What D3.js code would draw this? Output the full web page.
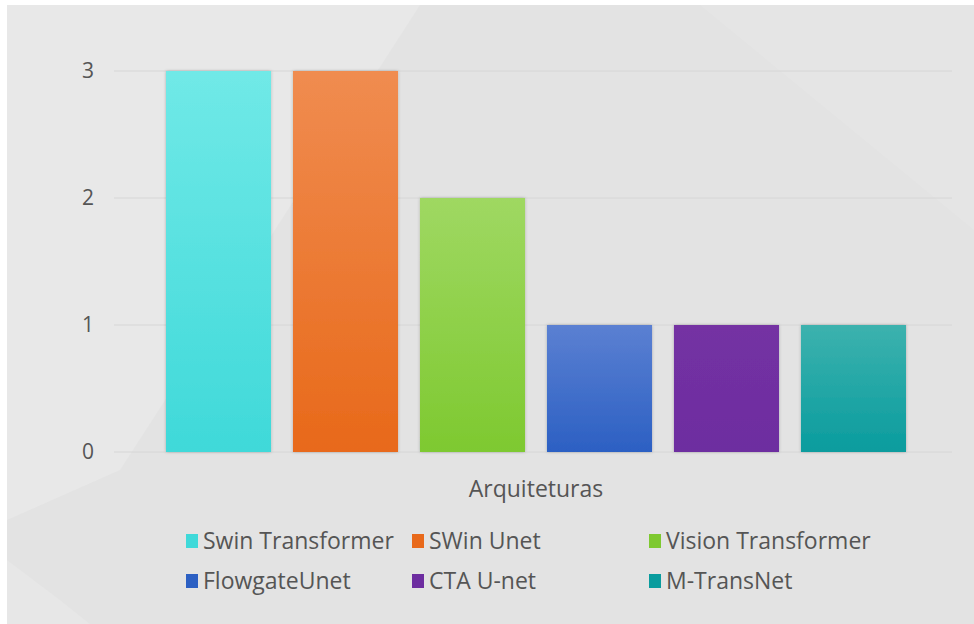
<!DOCTYPE html>
<html lang="pt">
<head>
    <meta charset="UTF-8">
    <title>Arquiteturas</title>
    <style>
        body { margin: 0; background: #ffffff; }
        text { font-family: "Open Sans", "Noto Sans", sans-serif; fill: #555555; }
    </style>
</head>
<body>
<script src="https://d3js.org/d3.v7.min.js"></script>
<script>
    // Data
    const series = ["Swin Transformer", "SWin Unet", "Vision Transformer", "FlowgateUnet", "CTA U-net", "M-TransNet"];
    const values = [3, 3, 2, 1, 1, 1];
    const yTicks = [0, 1, 2, 3];
    const category = "Arquiteturas";
    const topColors = ["#70e9e7", "#f08c50", "#9fd862", "#5b80d2", "#7431a3", "#3cb2ae"];
    const bottomColors = ["#3fd9d9", "#e8691a", "#7ec930", "#2c60c3", "#6d2da0", "#0a9c9e"];

    // Set Dimensions
    const width = 974;
    const height = 624;

    const svg = d3.select("body")
        .append("svg")
        .attr("width", width)
        .attr("height", height);

    // background with soft diagonal panels
    svg.append("rect")
        .attr("x", 7).attr("y", 5)
        .attr("width", width - 7).attr("height", height - 5)
        .attr("fill", "#e3e3e3");
    svg.append("path")
        .attr("d", "M7,5 L420,5 L120,470 L7,520 Z")
        .attr("fill", "#e8e8e8");
    svg.append("path")
        .attr("d", "M7,560 L60,600 L90,624 L7,624 Z")
        .attr("fill", "#e7e7e7");
    svg.append("path")
        .attr("d", "M700,5 L974,5 L974,230 Z")
        .attr("fill", "#e5e5e5");

    const defs = svg.append("defs");
    series.forEach((s, i) => {
        const g = defs.append("linearGradient")
            .attr("id", "grad" + i)
            .attr("x1", 0).attr("y1", 0).attr("x2", 0).attr("y2", 1);
        g.append("stop").attr("offset", "0%").attr("stop-color", topColors[i]);
        g.append("stop").attr("offset", "100%").attr("stop-color", bottomColors[i]);
    });
    const shadow = defs.append("filter").attr("id", "shadow")
        .attr("x", "-10%").attr("y", "-5%").attr("width", "120%").attr("height", "110%");
    shadow.append("feDropShadow")
        .attr("dx", 0).attr("dy", 0).attr("stdDeviation", 1.5)
        .attr("flood-color", "#000").attr("flood-opacity", 0.25);

    // Scales
    const x = d3.scaleBand()
        .domain(series)
        .range([166, 906])
        .paddingInner(0.173)
        .paddingOuter(0);
    const y = d3.scaleLinear()
        .domain([0, 3])
        .range([452, 71]);

    // gridlines
    svg.append("g")
        .selectAll("line")
        .data(yTicks)
        .join("line")
        .attr("x1", 114).attr("x2", 952)
        .attr("y1", d => y(d)).attr("y2", d => y(d))
        .attr("stroke", "#d6d6d6")
        .attr("stroke-width", 1);

    // Y axis labels
    const yAxis = svg.append("g")
        .attr("transform", "translate(94,0)")
        .call(d3.axisLeft(y).tickValues(yTicks).tickFormat(d3.format("d")).tickSize(0).tickPadding(0));
    yAxis.select(".domain").remove();
    yAxis.selectAll("text")
        .style("font-size", "21px")
        .attr("fill", "#555555");

    // bars
    svg.append("g")
        .selectAll("rect")
        .data(values)
        .join("rect")
        .attr("x", (d, i) => x(series[i]))
        .attr("y", d => y(d))
        .attr("width", x.bandwidth())
        .attr("height", d => y(0) - y(d))
        .attr("fill", (d, i) => "url(#grad" + i + ")")
        .attr("filter", "url(#shadow)");

    // category label
    svg.append("text")
        .attr("x", (x.range()[0] + x.range()[1]) / 2)
        .attr("y", 497)
        .attr("text-anchor", "middle")
        .style("font-size", "23px")
        .text(category);

    // legend
    const legendX = [186, 412, 649];
    const legendY = [541, 581];
    const legend = svg.append("g")
        .selectAll("g")
        .data(series)
        .join("g")
        .attr("transform", (d, i) => `translate(${legendX[i % 3]},${legendY[Math.floor(i / 3)]})`);
    legend.append("rect")
        .attr("x", 0).attr("y", -7)
        .attr("width", 12).attr("height", 14)
        .attr("fill", (d, i) => bottomColors[i]);
    legend.append("text")
        .attr("x", 17)
        .attr("y", 0)
        .attr("dy", "0.35em")
        .style("font-size", "23px")
        .text(d => d);
</script>
</body>
</html>
